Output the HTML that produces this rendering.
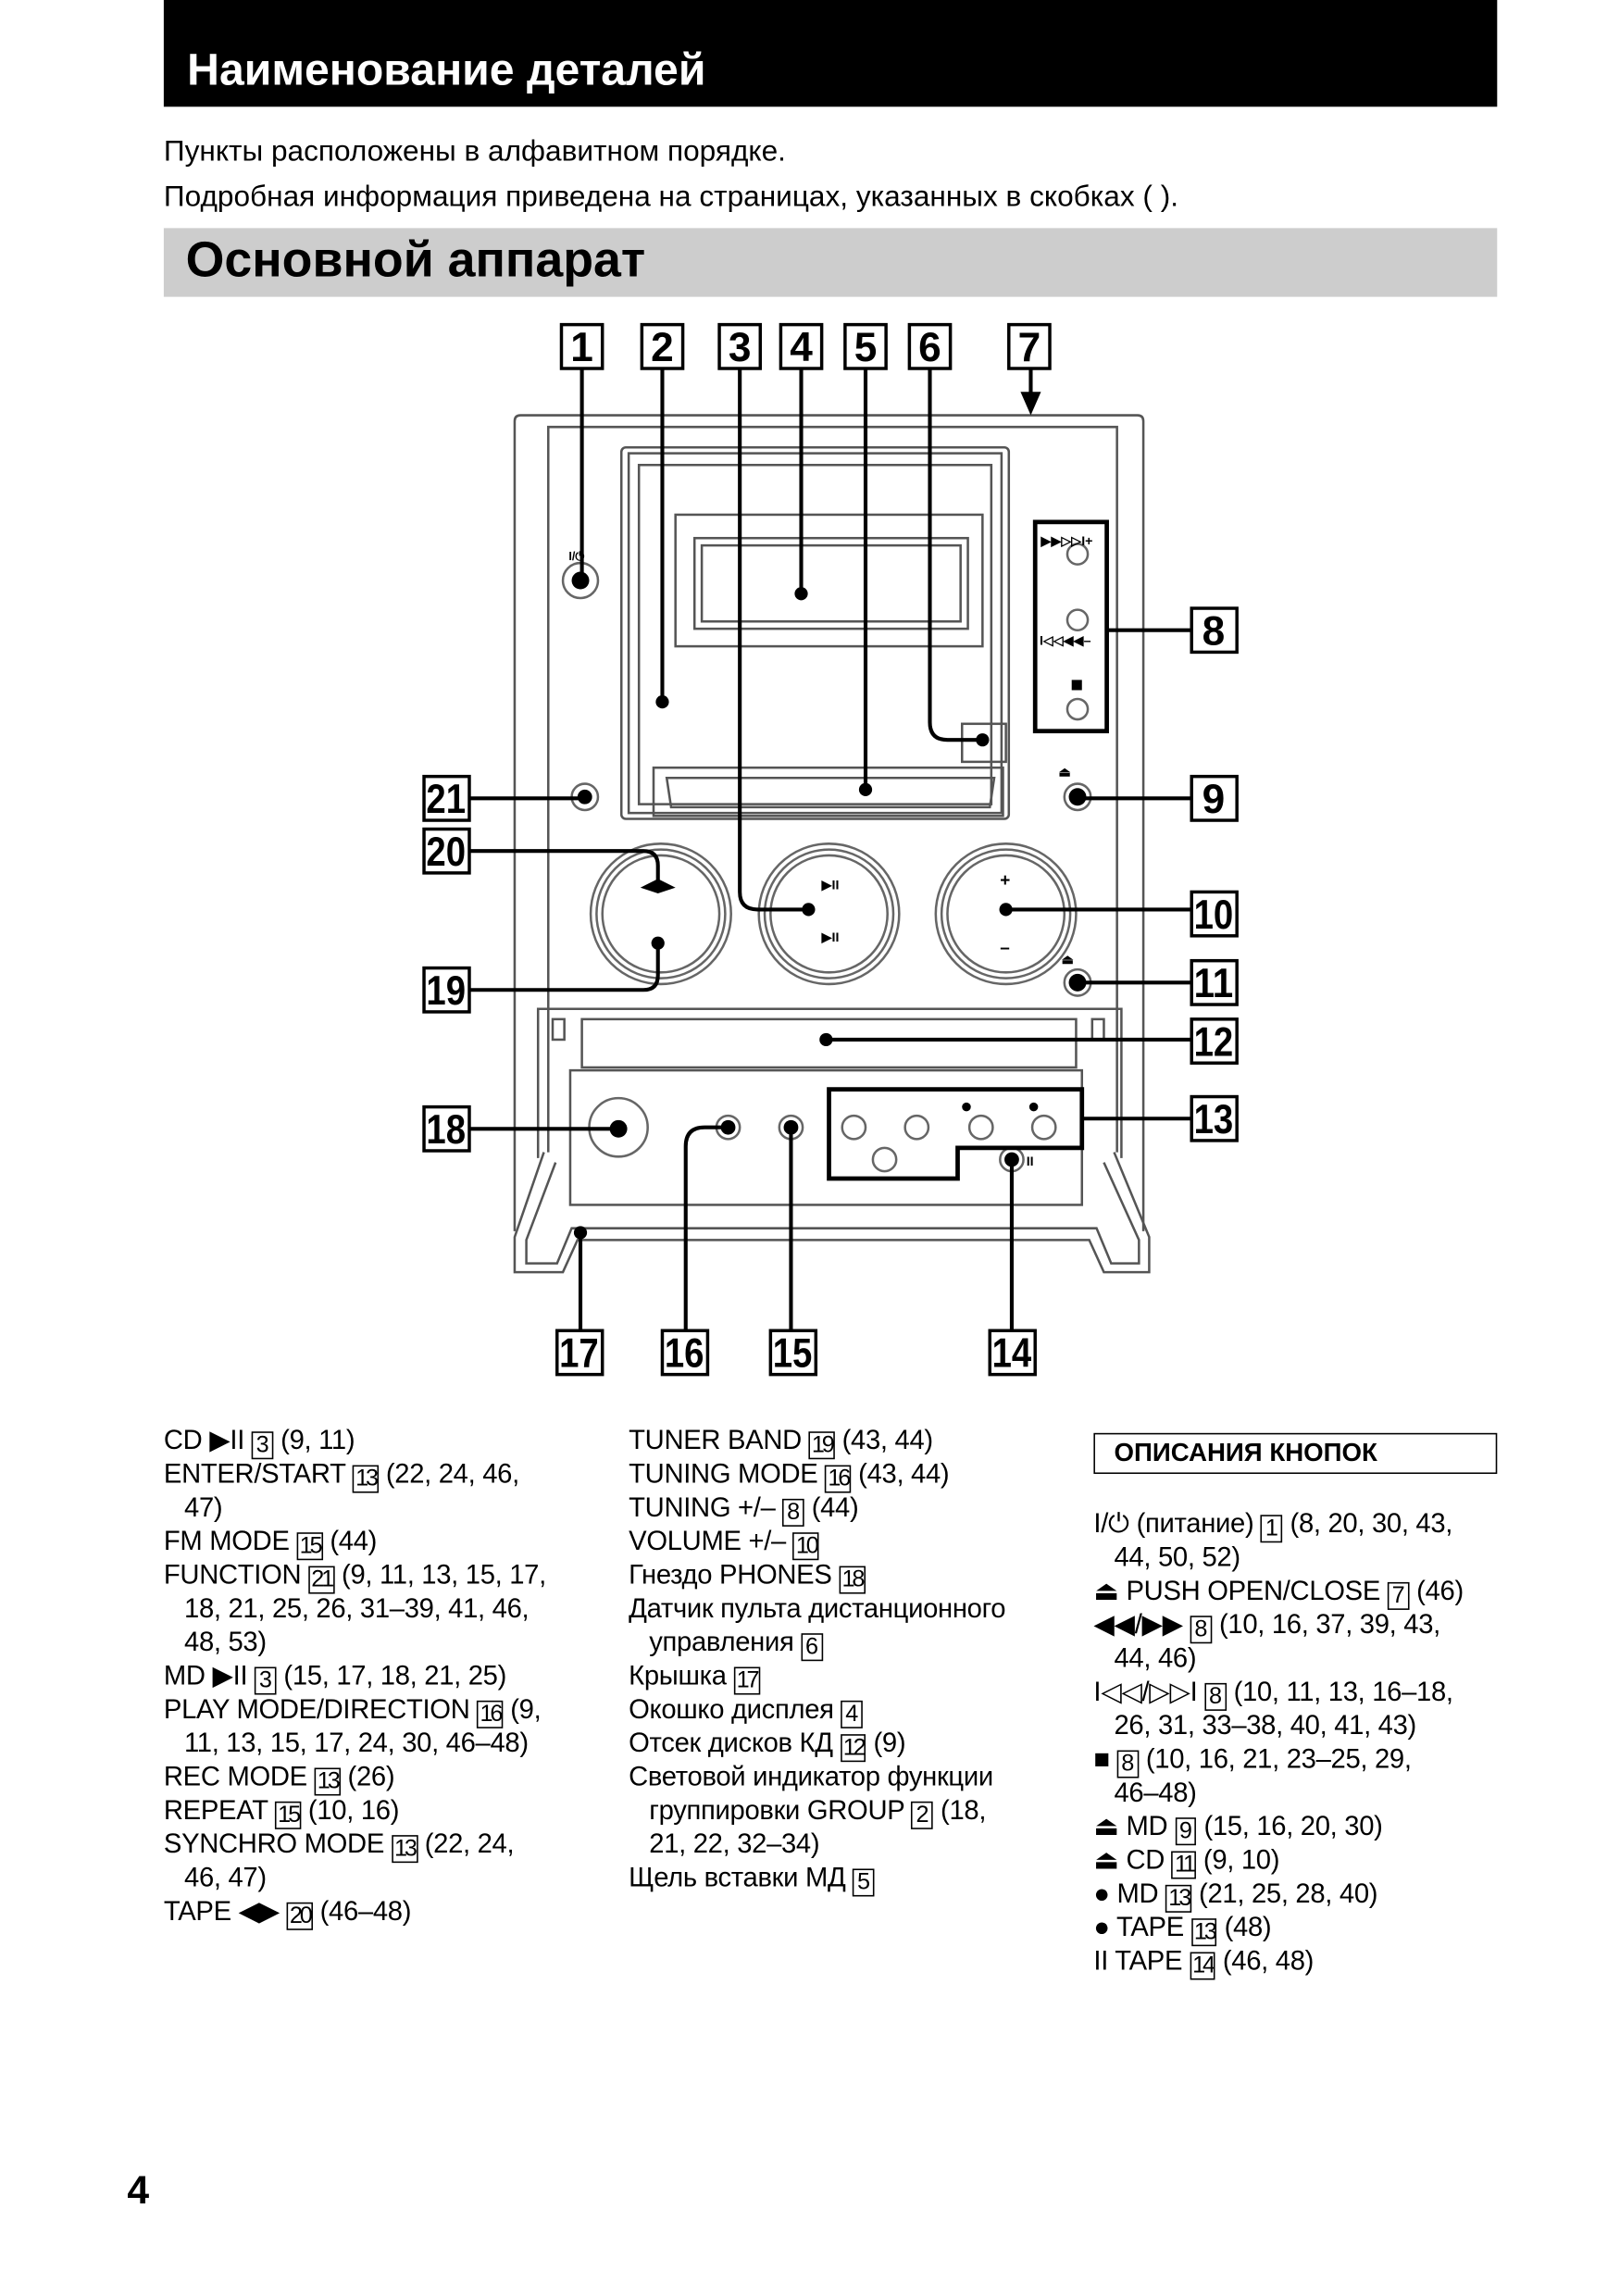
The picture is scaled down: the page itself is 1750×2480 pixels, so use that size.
<!DOCTYPE html>
<html><head><meta charset="utf-8"><style>
html,body{margin:0;padding:0;background:#fff;}
body{width:1750px;height:2479px;overflow:hidden;position:relative;}
#pg{position:absolute;left:0;top:0;width:1108px;height:1570px;transform:scale(1.5794);transform-origin:0 0;font-family:"Liberation Sans","DejaVu Sans",sans-serif;color:#000;}
.abs{position:absolute;}
.col{position:absolute;font-size:18.5px;line-height:23px;white-space:nowrap;letter-spacing:-0.2px;}
.col div{height:23px;}
.in{padding-left:14px;}
.b{display:inline-block;border:1.4px solid #000;font-size:16px;line-height:17px;padding:0 1px;letter-spacing:-2px;vertical-align:-2px;}
.b1{letter-spacing:0;padding:0 2px;}
</style></head><body><div id="pg">
<div class="abs" style="left:112px;top:0;width:912px;height:73px;background:#000;"></div>
<div class="abs" style="left:128px;top:31px;color:#fff;font-weight:bold;font-size:30.5px;">Наименование деталей</div>
<div class="abs" style="left:112px;top:93px;font-size:20px;">Пункты расположены в алфавитном порядке.</div>
<div class="abs" style="left:112px;top:124px;font-size:20px;">Подробная информация приведена на страницах, указанных в скобках ( ).</div>
<div class="abs" style="left:112px;top:156px;width:912px;height:47px;background:#cdcdcd;"></div>
<div class="abs" style="left:127px;top:159px;font-weight:bold;font-size:34px;">Основной аппарат</div>

<svg class="abs" style="left:0;top:0" width="1108" height="1570" viewBox="0 0 1108 1570">
<g font-family="Liberation Sans, sans-serif" font-size="28" font-weight="bold" text-anchor="middle">
<g fill="#fff" stroke="#000" stroke-width="2.2">
<rect x="384" y="222" width="28" height="30"/><rect x="439" y="222" width="28" height="30"/>
<rect x="492" y="222" width="28" height="30"/><rect x="534" y="222" width="28" height="30"/>
<rect x="578" y="222" width="28" height="30"/><rect x="622" y="222" width="28" height="30"/>
<rect x="690" y="222" width="28" height="30"/>
<rect x="815" y="416" width="31" height="30"/><rect x="815" y="531" width="31" height="30"/>
<rect x="815" y="610" width="31" height="30"/><rect x="815" y="657" width="31" height="30"/>
<rect x="815" y="697" width="31" height="30"/><rect x="815" y="750" width="31" height="30"/>
<rect x="290" y="531" width="31" height="30"/><rect x="290" y="567" width="31" height="30"/>
<rect x="290" y="662" width="31" height="30"/><rect x="290" y="757" width="31" height="30"/>
<rect x="381" y="910" width="31" height="30"/><rect x="453" y="910" width="31" height="30"/>
<rect x="527" y="910" width="31" height="30"/><rect x="677" y="910" width="31" height="30"/>
</g>
<text x="398" y="247">1</text><text x="453" y="247">2</text><text x="506" y="247">3</text><text x="548" y="247">4</text><text x="592" y="247">5</text><text x="636" y="247">6</text><text x="704" y="247">7</text>
<text x="830" y="441">8</text><text x="830" y="556">9</text>
<text x="830" y="635" textLength="27" lengthAdjust="spacingAndGlyphs">10</text>
<text x="830" y="682" textLength="27" lengthAdjust="spacingAndGlyphs">11</text>
<text x="830" y="722" textLength="27" lengthAdjust="spacingAndGlyphs">12</text>
<text x="830" y="775" textLength="27" lengthAdjust="spacingAndGlyphs">13</text>
<text x="305" y="556" textLength="27" lengthAdjust="spacingAndGlyphs">21</text>
<text x="305" y="592" textLength="27" lengthAdjust="spacingAndGlyphs">20</text>
<text x="305" y="687" textLength="27" lengthAdjust="spacingAndGlyphs">19</text>
<text x="305" y="782" textLength="27" lengthAdjust="spacingAndGlyphs">18</text>
<text x="396" y="935" textLength="27" lengthAdjust="spacingAndGlyphs">17</text>
<text x="468" y="935" textLength="27" lengthAdjust="spacingAndGlyphs">16</text>
<text x="542" y="935" textLength="27" lengthAdjust="spacingAndGlyphs">15</text>
<text x="692" y="935" textLength="27" lengthAdjust="spacingAndGlyphs">14</text>
</g>
<g fill="none" stroke="#555" stroke-width="1.6">
<path d="M352,842 L352,288 Q352,284 356,284 L778,284 Q782,284 782,288 L782,842"/>
<path d="M375,788 L375,292 L764,292 L764,788"/>
<rect x="425" y="306" width="265" height="254" rx="3"/>
<rect x="430" y="310" width="255" height="246"/>
<path d="M437,318 L678,318 L678,550 L437,550 Z"/>
<rect x="462" y="352" width="210" height="90"/>
<rect x="475" y="368" width="187" height="62"/>
<rect x="480" y="373" width="177" height="52"/>
<rect x="447" y="525" width="239" height="33"/>
<path d="M456,532 L680,532 L677,552 L459,552 Z"/>
<rect x="658" y="495" width="30" height="26"/>
<g stroke="#666">
<circle cx="452" cy="625" r="48"/><circle cx="452" cy="625" r="44"/><circle cx="452" cy="625" r="40"/>
<circle cx="567" cy="625" r="48"/><circle cx="567" cy="625" r="44"/><circle cx="567" cy="625" r="40"/>
<circle cx="688" cy="625" r="48"/><circle cx="688" cy="625" r="44"/><circle cx="688" cy="625" r="40"/>
<circle cx="397" cy="397" r="12"/><circle cx="400" cy="545" r="9"/><circle cx="737" cy="545" r="9"/><circle cx="737" cy="672" r="9"/>
<circle cx="423" cy="771" r="20"/><circle cx="498" cy="771" r="8"/><circle cx="541" cy="771" r="8"/>
<circle cx="584" cy="771" r="8"/><circle cx="627" cy="771" r="8"/><circle cx="671" cy="771" r="8"/><circle cx="714" cy="771" r="8"/>
<circle cx="605" cy="793" r="8"/><circle cx="692" cy="793" r="8"/>
<circle cx="737" cy="379" r="7"/><circle cx="737" cy="424" r="7"/><circle cx="737" cy="485" r="7"/>
</g>
<path d="M368,792 L368,690 L767,690 L767,792"/>
<rect x="398" y="697" width="338" height="33"/>
<rect x="378" y="697" width="8" height="14"/><rect x="747" y="697" width="8" height="14"/>
<rect x="390" y="732" width="350" height="92"/>
<path d="M372,788 L352,846 L352,870 L385,870 L395,848 L745,848 L755,870 L786,870 L786,846 L762,788"/>
<path d="M380,795 L360,848 L360,864 L381,864 L391,840 L750,840 L760,864 L779,864 L779,848 L755,795"/>
</g>
<g fill="none" stroke="#000" stroke-width="3">
<rect x="708" y="357" width="49" height="143"/>
<path d="M567,745 L740,745 L740,785 L655,785 L655,806 L567,806 Z"/>
</g>
<g fill="none" stroke="#000" stroke-width="2.6">
<path d="M398,252 L398,397"/><path d="M453,252 L453,480"/>
<path d="M506,252 L506,610 Q506,622 518,622 L553,622"/>
<path d="M548,252 L548,406"/><path d="M592,252 L592,540"/>
<path d="M636,252 L636,494 Q636,506 648,506 L672,506"/>
<path d="M705,252 L705,270"/>
<path d="M757,431 L815,431"/><path d="M737,546 L815,546"/><path d="M688,622 L815,622"/>
<path d="M737,672 L815,672"/><path d="M565,711 L815,711"/><path d="M740,765 L815,765"/>
<path d="M321,546 L400,546"/><path d="M321,582 L440,582 Q450,582 450,592 L450,606"/>
<path d="M321,677 L440,677 Q450,677 450,667 L450,645"/>
<path d="M321,772 L423,772"/>
<path d="M397,843 L397,910"/><path d="M469,910 L469,784 Q469,771 482,771 L498,771"/>
<path d="M541,771 L541,910"/><path d="M692,793 L692,910"/>
</g>
<path d="M698,268 L712,268 L705,284 Z" fill="#000"/>
<g fill="#000">
<circle cx="397" cy="397" r="6"/><circle cx="548" cy="406" r="4.5"/><circle cx="453" cy="480" r="4.5"/>
<circle cx="592" cy="540" r="4.5"/><circle cx="672" cy="506" r="4.5"/><circle cx="400" cy="545" r="5"/>
<circle cx="737" cy="545" r="6"/><circle cx="737" cy="672" r="6"/><circle cx="553" cy="622" r="4.5"/>
<circle cx="688" cy="622" r="4.5"/><circle cx="450" cy="645" r="4.5"/><circle cx="565" cy="711" r="4.5"/>
<circle cx="423" cy="772" r="6"/><circle cx="498" cy="771" r="5"/><circle cx="541" cy="771" r="5"/>
<circle cx="692" cy="793" r="5"/><circle cx="397" cy="843" r="4.5"/>
<circle cx="661" cy="757" r="3"/><circle cx="707" cy="757" r="3"/>
<path d="M438,607 L450,601 L462,607 L450,611 Z"/>
<rect x="733" y="465" width="7" height="7"/>
</g>
<g font-family="Liberation Sans, sans-serif" font-size="9" font-weight="bold" fill="#000">
<text x="712" y="373">▶▶▷▷I+</text><text x="711" y="441">I◁◁◀◀–</text>
<text x="562" y="608">▶II</text><text x="562" y="644">▶II</text>
<text x="684" y="606" font-size="12">+</text><text x="684" y="652" font-size="12">–</text>
<text x="389" y="383" font-size="8">I/⏻</text>
<text x="724" y="531" font-size="9">⏏</text><text x="726" y="659" font-size="9">⏏</text>
<text x="702" y="797" font-size="9">II</text>
</g>
</svg>

<div class="col" style="left:112px;top:973px;">
<div>CD ▶II <span class="b b1">3</span> (9, 11)</div>
<div>ENTER/START <span class="b">13</span> (22, 24, 46,</div>
<div class="in">47)</div>
<div>FM MODE <span class="b">15</span> (44)</div>
<div>FUNCTION <span class="b">21</span> (9, 11, 13, 15, 17,</div>
<div class="in">18, 21, 25, 26, 31–39, 41, 46,</div>
<div class="in">48, 53)</div>
<div>MD ▶II <span class="b b1">3</span> (15, 17, 18, 21, 25)</div>
<div>PLAY MODE/DIRECTION <span class="b">16</span> (9,</div>
<div class="in">11, 13, 15, 17, 24, 30, 46–48)</div>
<div>REC MODE <span class="b">13</span> (26)</div>
<div>REPEAT <span class="b">15</span> (10, 16)</div>
<div>SYNCHRO MODE <span class="b">13</span> (22, 24,</div>
<div class="in">46, 47)</div>
<div>TAPE ◀▶ <span class="b">20</span> (46–48)</div>
</div>
<div class="col" style="left:430px;top:973px;">
<div>TUNER BAND <span class="b">19</span> (43, 44)</div>
<div>TUNING MODE <span class="b">16</span> (43, 44)</div>
<div>TUNING +/– <span class="b b1">8</span> (44)</div>
<div>VOLUME +/– <span class="b">10</span></div>
<div>Гнездо PHONES <span class="b">18</span></div>
<div>Датчик пульта дистанционного</div>
<div class="in">управления <span class="b b1">6</span></div>
<div>Крышка <span class="b">17</span></div>
<div>Окошко дисплея <span class="b b1">4</span></div>
<div>Отсек дисков КД <span class="b">12</span> (9)</div>
<div>Световой индикатор функции</div>
<div class="in">группировки GROUP <span class="b b1">2</span> (18,</div>
<div class="in">21, 22, 32–34)</div>
<div>Щель вставки МД <span class="b b1">5</span></div>
</div>
<div class="abs" style="left:748px;top:980px;width:274px;height:26px;border:1.3px solid #000;"></div>
<div class="abs" style="left:762px;top:983px;font-weight:bold;font-size:17.5px;">ОПИСАНИЯ КНОПОК</div>
<div class="col" style="left:748px;top:1030px;">
<div>I/⏻ (питание) <span class="b b1">1</span> (8, 20, 30, 43,</div>
<div class="in">44, 50, 52)</div>
<div>⏏ PUSH OPEN/CLOSE <span class="b b1">7</span> (46)</div>
<div>◀◀/▶▶ <span class="b b1">8</span> (10, 16, 37, 39, 43,</div>
<div class="in">44, 46)</div>
<div>I◁◁/▷▷I <span class="b b1">8</span> (10, 11, 13, 16–18,</div>
<div class="in">26, 31, 33–38, 40, 41, 43)</div>
<div>■ <span class="b b1">8</span> (10, 16, 21, 23–25, 29,</div>
<div class="in">46–48)</div>
<div>⏏ MD <span class="b b1">9</span> (15, 16, 20, 30)</div>
<div>⏏ CD <span class="b">11</span> (9, 10)</div>
<div>● MD <span class="b">13</span> (21, 25, 28, 40)</div>
<div>● TAPE <span class="b">13</span> (48)</div>
<div>II TAPE <span class="b">14</span> (46, 48)</div>
</div>
<div class="abs" style="left:87px;top:1483px;font-weight:bold;font-size:27px;">4</div>
</div></body></html>
